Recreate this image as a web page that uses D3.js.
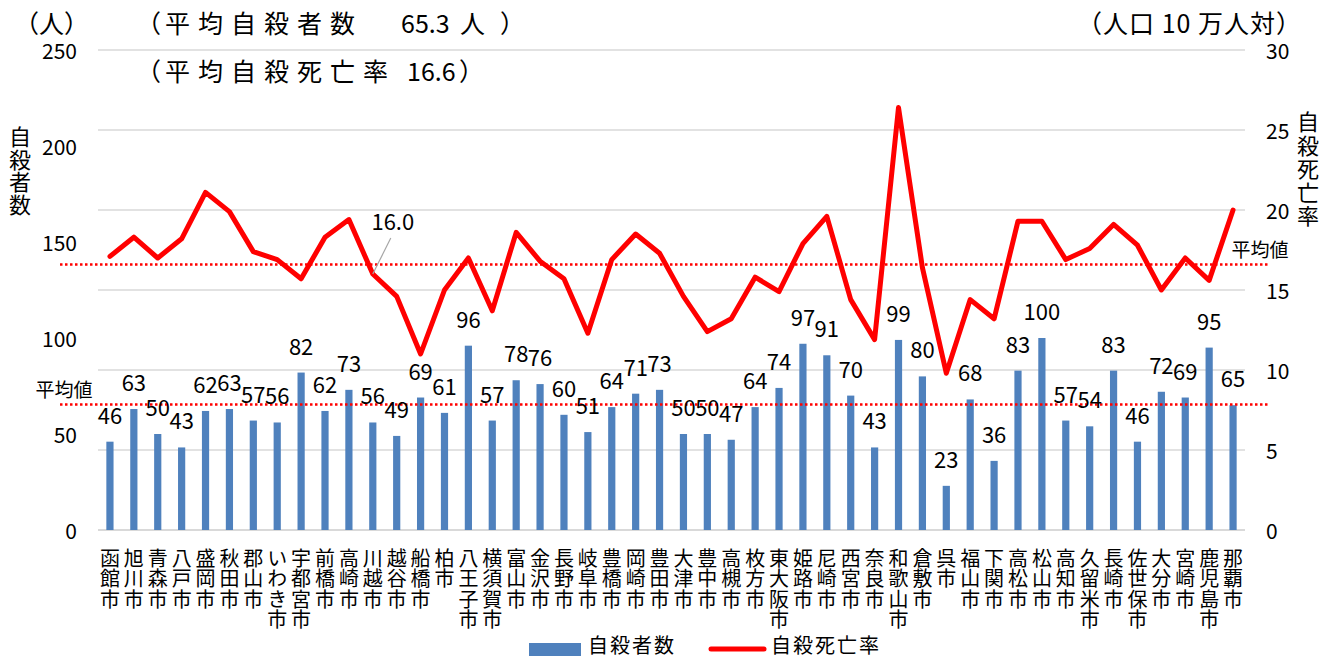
<!DOCTYPE html>
<html>
<head>
<meta charset="utf-8">
<script src="https://cdn.jsdelivr.net/npm/d3@7"></script>
<style>
  body { margin: 0; background: #fff; }
  svg text { font-family: "Noto Sans CJK JP", "Noto Sans", sans-serif; fill: #000; }
</style>
</head>
<body>
<div id="chart"></div>
<script>
// city names (x categories)
var cities = ["函館市", "旭川市", "青森市", "八戸市", "盛岡市", "秋田市", "郡山市", "いわき市",
  "宇都宮市", "前橋市", "高崎市", "川越市", "越谷市", "船橋市", "柏市", "八王子市",
  "横須賀市", "富山市", "金沢市", "長野市", "岐阜市", "豊橋市", "岡崎市", "豊田市",
  "大津市", "豊中市", "高槻市", "枚方市", "東大阪市", "姫路市", "尼崎市", "西宮市",
  "奈良市", "和歌山市", "倉敷市", "呉市", "福山市", "下関市", "高松市", "松山市",
  "高知市", "久留米市", "長崎市", "佐世保市", "大分市", "宮崎市", "鹿児島市", "那覇市"];

// 自殺者数 (bars, left axis)
var suicides = [46, 63, 50, 43, 62, 63, 57, 56, 82, 62, 73, 56, 49, 69, 61, 96,
  57, 78, 76, 60, 51, 64, 71, 73, 50, 50, 47, 64, 74, 97, 91, 70,
  43, 99, 80, 23, 68, 36, 83, 100, 57, 54, 83, 46, 72, 69, 95, 65];

// 自殺死亡率 (line, right axis)
var rates = [17.1, 18.3, 17.0, 18.2, 21.1, 19.9, 17.4, 16.9, 15.7, 18.3, 19.4, 16.0, 14.6, 11.0, 15.0, 17.0,
  13.7, 18.6, 16.8, 15.7, 12.3, 16.9, 18.5, 17.3, 14.6, 12.4, 13.2, 15.8, 14.9, 17.9, 19.6, 14.4,
  11.9, 26.4, 16.4, 9.8, 14.4, 13.2, 19.3, 19.3, 16.9, 17.6, 19.1, 17.8, 15.0, 17.0, 15.6, 20.0];

var avgCount = 65.3;
var avgRate = 16.6;

var leftTicks = [0, 50, 100, 150, 200, 250];
var rightTicks = [0, 5, 10, 15, 20, 25, 30];

var svgWidth = 1337;
var svgHeight = 659;

var plot = { left: 98, right: 1245, top: 50, bottom: 530 };

var svg = d3.select("#chart")
  .append("svg")
  .attr("width", svgWidth)
  .attr("height", svgHeight);

var x = d3.scaleBand()
  .domain(cities)
  .range([plot.left, plot.right]);

var yLeft = d3.scaleLinear()
  .domain([0, 250])
  .range([plot.bottom, plot.top]);

var yRight = d3.scaleLinear()
  .domain([0, 30])
  .range([plot.bottom, plot.top]);

var cx = d => x(d) + x.bandwidth() / 2;

// gridlines follow the right axis
svg.append("g")
  .selectAll("line")
  .data(rightTicks)
  .enter()
  .append("line")
  .attr("x1", plot.left)
  .attr("x2", plot.right)
  .attr("y1", d => yRight(d))
  .attr("y2", d => yRight(d))
  .attr("stroke", "#d9d9d9")
  .attr("stroke-width", d => d === 0 ? 2 : 1.5);

// left tick labels
svg.append("g")
  .selectAll("text")
  .data(leftTicks)
  .enter()
  .append("text")
  .attr("x", 77)
  .attr("y", d => yLeft(d))
  .attr("text-anchor", "end")
  .attr("dominant-baseline", "central")
  .style("font-size", "21px")
  .text(d => d);

// right tick labels
svg.append("g")
  .selectAll("text")
  .data(rightTicks)
  .enter()
  .append("text")
  .attr("x", 1266)
  .attr("y", d => yRight(d))
  .attr("text-anchor", "start")
  .attr("dominant-baseline", "central")
  .style("font-size", "21px")
  .text(d => d);

// bars
svg.append("g")
  .selectAll("rect")
  .data(suicides)
  .enter()
  .append("rect")
  .attr("x", (d, i) => cx(cities[i]) - 3.6)
  .attr("width", 7.2)
  .attr("y", d => yLeft(d))
  .attr("height", d => yLeft(0) - yLeft(d))
  .attr("fill", "#4f81bd");

// average lines
svg.append("line")
  .attr("x1", 60).attr("x2", 1270)
  .attr("y1", yLeft(avgCount)).attr("y2", yLeft(avgCount))
  .attr("stroke", "#ff0000")
  .attr("stroke-width", 2.5)
  .attr("stroke-dasharray", "2.5,2.5");

svg.append("line")
  .attr("x1", 60).attr("x2", 1270)
  .attr("y1", yRight(avgRate)).attr("y2", yRight(avgRate))
  .attr("stroke", "#ff0000")
  .attr("stroke-width", 2.5)
  .attr("stroke-dasharray", "2.5,2.5");

svg.append("text")
  .attr("x", 64).attr("y", 388)
  .attr("text-anchor", "middle")
  .attr("dominant-baseline", "central")
  .style("font-size", "19px")
  .text("平均値");

svg.append("text")
  .attr("x", 1260).attr("y", 248)
  .attr("text-anchor", "middle")
  .attr("dominant-baseline", "central")
  .style("font-size", "19px")
  .text("平均値");

// bar value labels
svg.append("g")
  .selectAll("text")
  .data(suicides)
  .enter()
  .append("text")
  .attr("x", (d, i) => cx(cities[i]))
  .attr("y", d => yLeft(d) - 28)
  .attr("text-anchor", "middle")
  .attr("dominant-baseline", "central")
  .style("font-size", "22px")
  .text(d => d);

// rate line
var line = d3.line()
  .x((d, i) => cx(cities[i]))
  .y(d => yRight(d));

svg.append("path")
  .datum(rates)
  .attr("d", line)
  .attr("fill", "none")
  .attr("stroke", "#ff0000")
  .attr("stroke-width", 5)
  .attr("stroke-linejoin", "round")
  .attr("stroke-linecap", "round");

// callout for 川越市
var kawagoe = cities.indexOf("川越市");
var kx = cx(cities[kawagoe]);
var ky = yRight(rates[kawagoe]);
svg.append("line")
  .attr("x1", kx).attr("y1", ky)
  .attr("x2", kx + 18).attr("y2", ky - 36)
  .attr("stroke", "#a6a6a6")
  .attr("stroke-width", 1.2);
svg.append("text")
  .attr("x", kx + 20).attr("y", ky - 54)
  .attr("text-anchor", "middle")
  .attr("dominant-baseline", "central")
  .style("font-size", "22px")
  .text(rates[kawagoe].toFixed(1));

// category labels, written top to bottom
svg.append("g")
  .selectAll("text")
  .data(cities)
  .enter()
  .append("text")
  .attr("x", d => cx(d))
  .attr("y", 548)
  .style("writing-mode", "vertical-rl")
  .style("font-size", "20px")
  .style("letter-spacing", "0.5px")
  .text(d => d);

// axis titles (vertical)
svg.append("text")
  .attr("x", 20).attr("y", 126)
  .style("writing-mode", "vertical-rl")
  .style("font-size", "22px")
  .style("letter-spacing", "0.5px")
  .text("自殺者数");

svg.append("text")
  .attr("x", 1308).attr("y", 111)
  .style("writing-mode", "vertical-rl")
  .style("font-size", "22px")
  .style("letter-spacing", "1.4px")
  .text("自殺死亡率");

// header texts
function header(str, xPos, yPos, spacing) {
  svg.append("text")
    .attr("x", xPos).attr("y", yPos)
    .attr("dominant-baseline", "central")
    .style("font-size", "25px")
    .style("letter-spacing", spacing + "px")
    .text(str);
}
header("（人）", 14, 22, 0);

header("（", 136, 22, 0);
header("平均自殺者数", 165, 22, 8);
header("65.3", 401, 22, 0);
header("人", 460, 22, 0);
header("）", 500, 22, 0);

header("（", 136, 70, 0);
header("平均自殺死亡率", 165, 70, 8);
header("16.6", 407, 70, 0);
header("）", 459, 70, 0);

svg.append("text")
  .attr("x", 1302).attr("y", 22)
  .attr("text-anchor", "end")
  .attr("dominant-baseline", "central")
  .style("font-size", "25px")
  .style("letter-spacing", "1px")
  .text("（人口 10 万人対）");

// legend
var legend = svg.append("g");
legend.append("rect")
  .attr("x", 529).attr("y", 643)
  .attr("width", 52).attr("height", 13)
  .attr("fill", "#4f81bd");
legend.append("text")
  .attr("x", 588).attr("y", 644)
  .attr("dominant-baseline", "central")
  .style("font-size", "20px")
  .style("letter-spacing", "2px")
  .text("自殺者数");
legend.append("line")
  .attr("x1", 711).attr("x2", 764)
  .attr("y1", 649).attr("y2", 649)
  .attr("stroke", "#ff0000")
  .attr("stroke-width", 5)
  .attr("stroke-linecap", "round");
legend.append("text")
  .attr("x", 771).attr("y", 644)
  .attr("dominant-baseline", "central")
  .style("font-size", "20px")
  .style("letter-spacing", "2px")
  .text("自殺死亡率");
</script>
</body>
</html>
